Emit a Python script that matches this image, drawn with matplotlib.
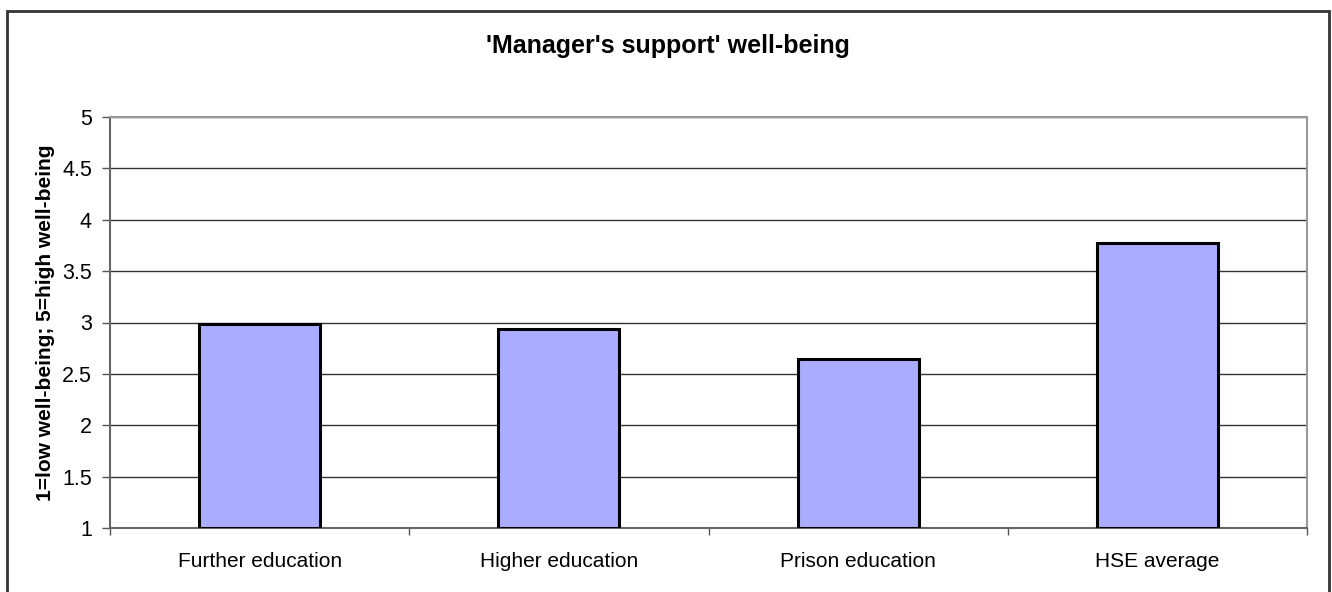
import matplotlib
matplotlib.use("Agg")
import matplotlib.pyplot as plt
from matplotlib.patches import Rectangle
import numpy as np

categories = ["Further education", "Higher education", "Prison education", "HSE average"]
values = [2.99, 2.94, 2.645, 3.77]
yticks = [1, 1.5, 2, 2.5, 3, 3.5, 4, 4.5, 5]
ytick_labels = ["1", "1.5", "2", "2.5", "3", "3.5", "4", "4.5", "5"]

plt.rcParams['font.family'] = ['Liberation Sans', 'DejaVu Sans']

fig = plt.figure(figsize=(13.32, 5.92), dpi=100)
ax = fig.add_axes([110/1332, 1 - 528/592, (1307-110)/1332, (528-117)/592])

x = np.arange(len(categories))
ax.bar(x, [v - 1 for v in values], bottom=1, width=0.404, color="#aaadff",
       edgecolor="black", linewidth=2.2, zorder=3)

ax.set_xlim(-0.5, len(categories) - 0.5)
ax.set_ylim(1, 5)
ax.set_yticks(yticks)
ax.set_yticklabels(ytick_labels, fontsize=15.5)
ax.yaxis.grid(True, color="#333333", linewidth=1.0, zorder=0)
ax.set_axisbelow(True)

ax.set_xticks(x)
ax.set_xticklabels(categories, fontsize=15)
ax.tick_params(axis='x', length=0, pad=17)
ax.set_xticks(np.arange(-0.5, len(categories)), minor=True)
ax.tick_params(axis='x', which='minor', length=5, width=1, color="#555555", direction='out')
ax.tick_params(axis='y', length=6, width=1, color="#555555", pad=7, direction='out')

for s in ['top', 'right']:
    ax.spines[s].set_color("#999999")
    ax.spines[s].set_linewidth(1.5)
for s in ['left', 'bottom']:
    ax.spines[s].set_color("#666666")
    ax.spines[s].set_linewidth(1.5)

ax.set_ylabel("1=low well-being; 5=high well-being", fontsize=15, fontweight='bold')
ax.yaxis.set_label_coords((55 - 110) / (1307 - 110), 0.5)

fig.text(668/1332, 1 - 46/592, "'Manager's support' well-being", ha='center', va='center',
         fontsize=18, fontweight='bold')

border = Rectangle((7/1332, -0.05), (1329-7)/1332, 1.05 - 11/592, transform=fig.transFigure,
                   fill=False, edgecolor="#333333", linewidth=2, clip_on=False)
fig.patches.append(border)

fig.savefig("out.png", dpi=100)
